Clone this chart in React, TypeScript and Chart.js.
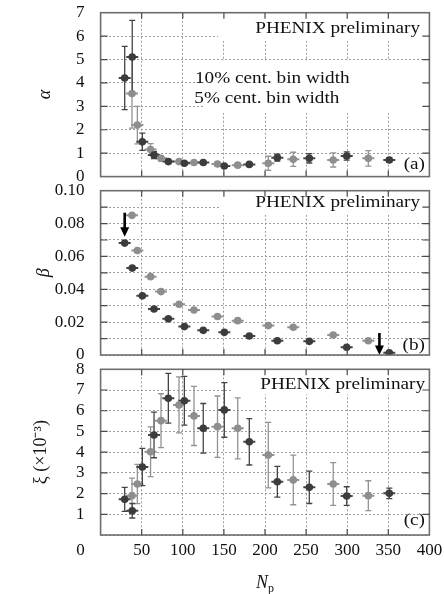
import React, { useEffect, useRef } from 'react';
import { Chart, registerables } from 'chart.js';

Chart.register(...registerables);

// ---------------- data ----------------
// N_part positions of the two centrality binnings
const npDark = [29.3, 38.5, 50.8, 65, 82.4, 101.9, 124.9, 150.5, 180.9, 215, 253.9, 299.4, 351.2];
const npLight = [38.2, 44.7, 60.8, 73.5, 95.4, 113.6, 142.2, 166.8, 204, 234.4, 283, 325.7];

// panel (a): alpha
const alphaDark = [4.21, 5.11, 1.49, 0.92, 0.64, 0.57, 0.6, 0.45, 0.52, 0.81, 0.78, 0.88, 0.71];
const alphaDarkErr = [1.35, 1.56, 0.37, 0.15, 0.08, 0.06, 0.06, 0.06, 0.07, 0.15, 0.2, 0.18, 0.1];
const alphaLight = [3.55, 2.2, 1.16, 0.78, 0.64, 0.6, 0.54, 0.49, 0.57, 0.74, 0.71, 0.78];
const alphaLightErr = [1.48, 0.8, 0.25, 0.12, 0.07, 0.07, 0.07, 0.07, 0.3, 0.3, 0.3, 0.33];

// panel (b): beta
const betaDark = [0.0681, 0.0529, 0.036, 0.028, 0.022, 0.0173, 0.015, 0.0138, 0.0116, 0.0087, 0.0083, 0.0047, 0.0014];
const betaLight = [0.085, 0.0636, 0.0477, 0.0386, 0.0309, 0.0274, 0.0234, 0.0209, 0.0179, 0.0169, 0.0122, 0.0087];

// panel (c): xi (x 10^-3)
const xiDark = [1.72, 1.17, 3.28, 4.83, 6.6, 6.48, 5.15, 6.04, 4.5, 2.57, 2.3, 1.88, 2.01];
const xiDarkErr = [0.58, 0.35, 0.9, 1.1, 1.2, 1.18, 1.2, 1.32, 1.12, 0.74, 0.78, 0.45, 0.25];
const xiLight = [1.9, 2.46, 4.02, 5.52, 6.28, 5.75, 5.23, 5.15, 3.86, 2.66, 2.46, 1.9];
const xiLightErr = [0.85, 0.95, 1.2, 1.3, 1.35, 1.43, 1.48, 1.47, 1.58, 1.2, 1.03, 0.72];

// arrows in panel (b): [N_part, from value, to value]
const arrowsB = [
  [29.3, 0.0866, 0.072],
  [339.2, 0.0134, 0.0],
];

const legendTexts = ['10% cent. bin width', '5% cent. bin width'];
const watermark = 'PHENIX preliminary';

// ---------------- styles ----------------
const FONT = "'Liberation Serif','Times New Roman',serif";
const DARK = '#3c3c3c';
const LIGHT = '#8e8e8e';
const DARK_BAR = '#454545';
const LIGHT_BAR = '#939393';
const GRID = '#9c9c9c';
const TEXT = '#111';
const PLOT_LEFT = 100.6;
const PAD_RIGHT = 14.6;

type TextItem = { text: string; align: 'left' | 'right'; dx: number; dy: number; fromBottom?: boolean };
type Box = { left: number; height: number; top: number };

type Spec = {
  top: number;
  height: number;
  padTop: number;
  padBottom: number;
  xHeight: number;
  showX: boolean;
  yMin: number;
  yMax: number;
  yStep: number;
  yLabel: (v: number) => string;
  yTitle: string;
  yTitleItalic: boolean;
  yTitlePad: number;
  darkY: number[];
  darkErr?: number[];
  lightY: number[];
  lightErr?: number[];
  boxes: Box[];
  texts: TextItem[];
  arrows?: number[][];
};

function drawStretched(ctx: CanvasRenderingContext2D, t: TextItem, x: number, y: number) {
  ctx.save();
  ctx.translate(x, y);
  ctx.scale(1.2, 1);
  ctx.textAlign = t.align;
  ctx.textBaseline = 'alphabetic';
  ctx.fillText(t.text, 0, 0);
  ctx.restore();
}

function makeDecor(spec: Spec) {
  return {
    id: 'decor',
    beforeDatasetsDraw(chart: any) {
      const { ctx, chartArea: a } = chart;
      const xs = chart.scales.x;
      const ys = chart.scales.y;
      ctx.save();
      ctx.fillStyle = '#ffffff';
      for (const b of spec.boxes) {
        ctx.fillRect(a.left + b.left, a.top + b.top, a.right - a.left - b.left, b.height);
      }
      ctx.beginPath();
      ctx.rect(a.left, a.top, a.right - a.left, a.bottom - a.top);
      ctx.clip();
      const series = [
        { x: npLight, y: spec.lightY, err: spec.lightErr, color: LIGHT_BAR },
        { x: npDark, y: spec.darkY, err: spec.darkErr, color: DARK_BAR },
      ];
      for (const s of series) {
        ctx.strokeStyle = s.color;
        for (let i = 0; i < s.x.length; i++) {
          const px = xs.getPixelForValue(s.x[i]);
          const py = ys.getPixelForValue(s.y[i]);
          if (s.err) {
            const t = ys.getPixelForValue(s.y[i] + s.err[i]);
            const bt = ys.getPixelForValue(s.y[i] - s.err[i]);
            ctx.lineWidth = 1.3;
            ctx.beginPath();
            ctx.moveTo(px, t);
            ctx.lineTo(px, bt);
            ctx.moveTo(px - 3, t);
            ctx.lineTo(px + 3, t);
            ctx.moveTo(px - 3, bt);
            ctx.lineTo(px + 3, bt);
            ctx.stroke();
          }
          ctx.lineWidth = 2;
          ctx.beginPath();
          ctx.moveTo(px - 6, py);
          ctx.lineTo(px + 6, py);
          ctx.stroke();
        }
      }
      ctx.restore();
    },
    afterDatasetsDraw(chart: any) {
      const { ctx, chartArea: a } = chart;
      const xs = chart.scales.x;
      const ys = chart.scales.y;
      ctx.save();
      // arrows
      if (spec.arrows) {
        ctx.fillStyle = '#000';
        ctx.strokeStyle = '#000';
        for (const [nx, from, to] of spec.arrows) {
          const px = xs.getPixelForValue(nx);
          const y0 = ys.getPixelForValue(from);
          const y1 = ys.getPixelForValue(to);
          ctx.lineWidth = 2.6;
          ctx.beginPath();
          ctx.moveTo(px, y0);
          ctx.lineTo(px, y1 - 8);
          ctx.stroke();
          ctx.beginPath();
          ctx.moveTo(px - 4.5, y1 - 9.5);
          ctx.lineTo(px + 4.5, y1 - 9.5);
          ctx.lineTo(px, y1);
          ctx.closePath();
          ctx.fill();
        }
      }
      // texts
      ctx.fillStyle = TEXT;
      ctx.font = `16px ${FONT}`;
      for (const t of spec.texts) {
        const x = t.align === 'right' ? a.right - t.dx : a.left + t.dx;
        const y = t.fromBottom ? a.bottom - t.dy : a.top + t.dy;
        drawStretched(ctx, t, x, y);
      }
      // frame
      ctx.strokeStyle = '#6e6e6e';
      ctx.lineWidth = 1.6;
      ctx.strokeRect(a.left, a.top, a.right - a.left, a.bottom - a.top);
      // inward ticks
      ctx.strokeStyle = '#4a4a4a';
      ctx.lineWidth = 1.2;
      ctx.beginPath();
      for (const t of xs.ticks) {
        if (t.value <= 0 || t.value >= 400) continue;
        const px = xs.getPixelForValue(t.value);
        ctx.moveTo(px, a.bottom);
        ctx.lineTo(px, a.bottom - 6);
        ctx.moveTo(px, a.top);
        ctx.lineTo(px, a.top + 6);
      }
      for (const t of ys.ticks) {
        if (t.value <= spec.yMin || t.value >= spec.yMax - 1e-9) continue;
        const py = ys.getPixelForValue(t.value);
        ctx.moveTo(a.left, py);
        ctx.lineTo(a.left + 7, py);
        ctx.moveTo(a.right, py);
        ctx.lineTo(a.right - 7, py);
      }
      ctx.stroke();
      // bottom-panel extras: "0" label and N_p title
      if (spec.showX) {
        ctx.fillStyle = TEXT;
        ctx.font = `17px ${FONT}`;
        ctx.textAlign = 'center';
        ctx.textBaseline = 'alphabetic';
        ctx.fillText('0', xs.getPixelForValue(0) - 20, a.bottom + 19.5);
        const cx = (a.left + a.right) / 2;
        ctx.font = `italic 18px ${FONT}`;
        ctx.textAlign = 'left';
        ctx.fillText('N', cx - 9, a.bottom + 53);
        ctx.font = `12px ${FONT}`;
        ctx.fillText('p', cx + 3, a.bottom + 57);
      }
      ctx.restore();
    },
  };
}

function zeroPadding(s: any) {
  s.paddingTop = 0;
  s.paddingBottom = 0;
  s.paddingLeft = 0;
  s.paddingRight = 0;
}

function buildConfig(spec: Spec): any {
  const tickFont = { family: FONT, size: 17 };
  return {
    type: 'scatter',
    data: {
      datasets: [
        {
          label: legendTexts[0],
          data: npDark.map((x, i) => ({ x, y: spec.darkY[i] })),
          backgroundColor: DARK,
          borderWidth: 0,
          pointRadius: 3.8,
          pointHoverRadius: 3.8,
        },
        {
          label: legendTexts[1],
          data: npLight.map((x, i) => ({ x, y: spec.lightY[i] })),
          backgroundColor: LIGHT,
          borderWidth: 0,
          pointRadius: 3.8,
          pointHoverRadius: 3.8,
        },
      ],
    },
    options: {
      responsive: false,
      maintainAspectRatio: false,
      animation: false,
      devicePixelRatio: 1,
      events: [],
      layout: { padding: { left: 0, right: PAD_RIGHT, top: spec.padTop, bottom: spec.padBottom } },
      plugins: { legend: { display: false }, tooltip: { enabled: false }, title: { display: false } },
      scales: {
        x: {
          type: 'linear',
          position: 'bottom',
          min: 0,
          max: 400,
          ticks: {
            display: spec.showX,
            stepSize: 50,
            padding: 5,
            autoSkip: false,
            maxRotation: 0,
            font: tickFont,
            color: TEXT,
            callback: (v: number) => (v === 0 ? '' : String(v)),
          },
          grid: { color: GRID, lineWidth: 1, drawTicks: false },
          border: { display: false, dash: [2, 2] },
          afterFit: (s: any) => {
            s.height = spec.xHeight;
            zeroPadding(s);
          },
        },
        y: {
          type: 'linear',
          position: 'left',
          min: spec.yMin,
          max: spec.yMax,
          ticks: {
            stepSize: spec.yStep,
            padding: 16,
            autoSkip: false,
            font: tickFont,
            color: TEXT,
            callback: spec.yLabel,
          },
          grid: { color: GRID, lineWidth: 1, drawTicks: false },
          border: { display: false, dash: [2, 2] },
          title: {
            display: true,
            text: spec.yTitle,
            color: TEXT,
            font: { family: FONT, size: 18, style: spec.yTitleItalic ? 'italic' : 'normal', lineHeight: 1.2 },
            padding: { top: spec.yTitlePad, bottom: 0 },
          },
          afterFit: (s: any) => {
            s.width = PLOT_LEFT;
            zeroPadding(s);
          },
        },
      },
    },
    plugins: [makeDecor(spec)],
  };
}

const specs: Spec[] = [
  {
    top: 0,
    height: 190,
    padTop: 12.7,
    padBottom: 13.4,
    xHeight: 0,
    showX: false,
    yMin: 0,
    yMax: 7,
    yStep: 1,
    yLabel: (v: number) => String(v),
    yTitle: 'α',
    yTitleItalic: true,
    yTitlePad: 34,
    darkY: alphaDark,
    darkErr: alphaDarkErr,
    lightY: alphaLight,
    lightErr: alphaLightErr,
    boxes: [
      { left: 117.4, top: 0, height: 28.3 },
      { left: 104.4, top: 48.3, height: 52 },
    ],
    texts: [
      { text: watermark, align: 'right', dx: 9.4, dy: 20.6 },
      { text: legendTexts[0], align: 'left', dx: 94.4, dy: 70 },
      { text: legendTexts[1], align: 'left', dx: 93.7, dy: 90.6 },
      { text: '(a)', align: 'right', dx: 4.4, dy: 8, fromBottom: true },
    ],
  },
  {
    top: 180,
    height: 185,
    padTop: 10.7,
    padBottom: 10,
    xHeight: 0,
    showX: false,
    yMin: 0,
    yMax: 0.1,
    yStep: 0.01,
    yLabel: (v: number) => {
      const k = Math.round(v * 100);
      if (k % 2 !== 0) return '';
      return k === 0 ? '0' : (k / 100).toFixed(2);
    },
    yTitle: 'β',
    yTitleItalic: true,
    yTitlePad: 33,
    darkY: betaDark,
    lightY: betaLight,
    boxes: [{ left: 120.4, top: 0, height: 24.3 }],
    texts: [
      { text: watermark, align: 'right', dx: 9.4, dy: 16.6 },
      { text: '(b)', align: 'right', dx: 4.4, dy: 5, fromBottom: true },
    ],
    arrows: arrowsB,
  },
  {
    top: 360,
    height: 234,
    padTop: 9.3,
    padBottom: 0,
    xHeight: 59,
    showX: true,
    yMin: 0,
    yMax: 8,
    yStep: 1,
    yLabel: (v: number) => (v === 0 ? '' : String(v)),
    yTitle: 'ξ (×10⁻³)',
    yTitleItalic: false,
    yTitlePad: 30,
    darkY: xiDark,
    darkErr: xiDarkErr,
    lightY: xiLight,
    lightErr: xiLightErr,
    boxes: [{ left: 131.4, top: 0, height: 25 }],
    texts: [
      { text: watermark, align: 'right', dx: 4.4, dy: 19.7 },
      { text: '(c)', align: 'right', dx: 4.4, dy: 10, fromBottom: true },
    ],
  },
];

function Panel({ spec }: { spec: Spec }) {
  const ref = useRef<HTMLCanvasElement>(null);
  useEffect(() => {
    const chart = new Chart(ref.current as HTMLCanvasElement, buildConfig(spec));
    return () => chart.destroy();
  }, [spec]);
  return (
    <canvas
      ref={ref}
      width={444}
      height={spec.height}
      style={{ position: 'absolute', left: 0, top: spec.top, width: 444, height: spec.height }}
    />
  );
}

export default function App() {
  return (
    <div style={{ position: 'absolute', left: 0, top: 0, width: 444, height: 594, background: '#ffffff' }}>
      {specs.map((s, i) => (
        <Panel key={i} spec={s} />
      ))}
    </div>
  );
}
